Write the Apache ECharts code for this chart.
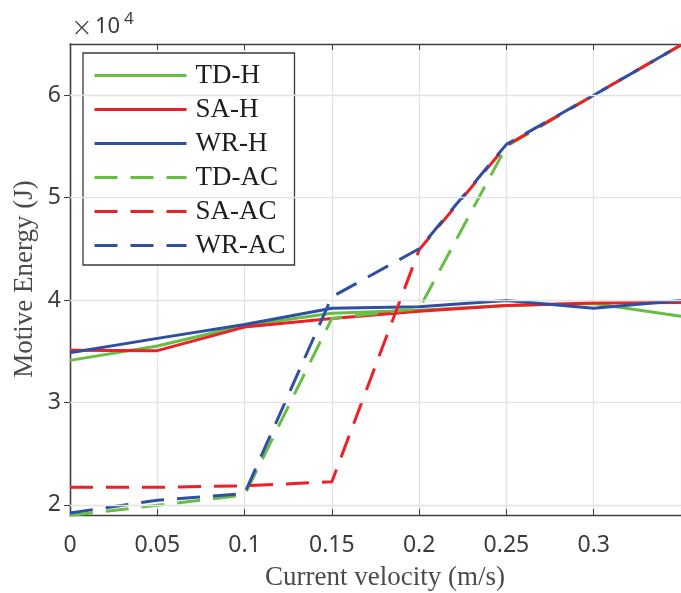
<!DOCTYPE html>
<html>
<head>
<meta charset="utf-8">
<script src="https://cdn.jsdelivr.net/npm/echarts@6/dist/echarts.min.js"></script>
<style>
  html, body { margin: 0; padding: 0; background: #fff; }
  #chart { width: 681px; height: 593px; }
</style>
</head>
<body>
<div id="chart"></div>
<script>
// 数据：横轴为流速，纵轴为能量 (J)
const velocity = [0, 0.05, 0.1, 0.15, 0.2, 0.25, 0.3, 0.35]
const tdH = [34100, 35500, 37500, 38700, 39000, 39450, 39650, 38400]
const saH = [35100, 35050, 37350, 38200, 38900, 39450, 39700, 39750]
const wrH = [34850, 36250, 37600, 39200, 39350, 39950, 39200, 39950]
const tdAC = [18950, 19950, 20950, 38200, 39150, 55000, 60000, 64900]
const saAC = [21700, 21700, 21850, 22250, 44900, 55100, 60000, 64900]
const wrAC = [19200, 20450, 21100, 40300, 45000, 55200, 60000, 64900]
const yTicks = [20000, 30000, 40000, 50000, 60000]

const GREEN = '#68bd45'
const RED = '#ee1f25'
const BLUE = '#2f4fa2'
const AXIS = '#404040'
const SERIF = '"Liberation Serif", "DejaVu Serif", serif'
const SANS = '"Noto Sans", sans-serif'
const DASH = [23, 13]

function pairs(ys) {
  return velocity.map((x, i) => [x, ys[i]])
}

function makeLine(name, ys, color, dashed) {
  return {
    name: name,
    type: 'line',
    data: pairs(ys),
    symbol: 'none',
    smooth: false,
    lineStyle: { color: color, width: 3, type: dashed ? DASH : 'solid' },
    itemStyle: { color: color },
    emphasis: { disabled: true }
  }
}

const chart = echarts.init(document.getElementById('chart'), null, { renderer: 'canvas' })

const option = {
  animation: false,
  backgroundColor: '#fff',
  grid: { left: 70, right: 0, top: 44, bottom: 78, containLabel: false },
  legend: {
    orient: 'vertical',
    left: 83,
    top: 53,
    padding: [9, 9, 6, 10],
    itemWidth: 92,
    itemHeight: 12,
    itemGap: 7,
    borderColor: '#3a3a3a',
    borderWidth: 1.3,
    backgroundColor: '#fff',
    itemStyle: { opacity: 0 },
    lineStyle: { width: 3 },
    textStyle: { fontFamily: SERIF, fontSize: 27, lineHeight: 27, color: '#1e1e1e', padding: [0, 0, 0, 4] },
    data: ['TD-H', 'SA-H', 'WR-H', 'TD-AC', 'SA-AC', 'WR-AC']
  },
  xAxis: [{
    type: 'value',
    position: 'bottom',
    min: 0,
    max: 0.35,
    interval: 0.05,
    axisLine: { lineStyle: { color: AXIS, width: 1.3 } },
    axisTick: { inside: true, length: 6, lineStyle: { color: AXIS } },
    axisLabel: {
      showMaxLabel: false,
      margin: 19,
      fontFamily: SANS,
      fontSize: 23,
      color: '#3c3c3c',
      formatter: (v) => String(+v.toFixed(2))
    },
    splitLine: { show: true, lineStyle: { color: '#e3e3e3', width: 1.3 } }
  }, {
    type: 'value',
    position: 'top',
    min: 0,
    max: 0.35,
    interval: 0.05,
    axisLine: { show: true, lineStyle: { color: AXIS, width: 1.3 } },
    axisTick: { show: true, inside: true, length: 6, lineStyle: { color: AXIS } },
    axisLabel: { show: false },
    splitLine: { show: false }
  }],
  yAxis: [{
    type: 'value',
    position: 'left',
    min: 19000,
    max: 65000,
    axisLine: { show: true, lineStyle: { color: AXIS, width: 1.3 } },
    axisTick: { show: true, inside: true, length: 6, customValues: yTicks, lineStyle: { color: AXIS } },
    axisLabel: {
      customValues: yTicks,
      margin: 9,
      fontFamily: SANS,
      fontSize: 23,
      color: '#3c3c3c',
      formatter: (v) => String(v / 10000)
    },
    splitLine: { show: false }
  }, {
    type: 'value',
    position: 'right',
    min: 19000,
    max: 65000,
    axisLine: { show: true, lineStyle: { color: AXIS, width: 1.3 } },
    axisTick: { show: true, inside: true, length: 6, customValues: yTicks, lineStyle: { color: AXIS } },
    axisLabel: { show: false, customValues: yTicks },
    splitLine: { show: false }
  }],
  graphic: [{
    // 科学计数法指数标注 ×10^4
    type: 'text',
    x: 82,
    y: 29,
    style: {
      text: '×',
      fontFamily: '"DejaVu Sans", sans-serif',
      fontSize: 26,
      fontWeight: 200,
      fill: '#3c3c3c',
      align: 'center',
      verticalAlign: 'middle'
    }
  }, {
    type: 'text',
    x: 95,
    y: 38,
    style: {
      text: '10',
      fontFamily: SANS,
      fontSize: 22,
      fill: '#3c3c3c',
      align: 'left',
      verticalAlign: 'bottom'
    }
  }, {
    type: 'text',
    x: 124,
    y: 28,
    style: {
      text: '4',
      fontFamily: SANS,
      fontSize: 17,
      fill: '#3c3c3c',
      align: 'left',
      verticalAlign: 'bottom'
    }
  }, {
    type: 'text',
    x: 385,
    y: 578,
    style: {
      text: 'Current velocity (m/s)',
      fontFamily: SERIF,
      fontSize: 27,
      fill: '#4a4a4a',
      align: 'center',
      verticalAlign: 'middle'
    }
  }, {
    type: 'text',
    x: 25,
    y: 279,
    rotation: Math.PI / 2,
    style: {
      text: 'Motive Energy (J)',
      fontFamily: SERIF,
      fontSize: 27,
      fill: '#4a4a4a',
      align: 'center',
      verticalAlign: 'middle'
    }
  }],
  series: [
    // 水平网格线，沿 y 轴刻度
    {
      name: 'grid-y',
      type: 'line',
      data: [],
      silent: true,
      markLine: {
        silent: true,
        symbol: 'none',
        label: { show: false },
        lineStyle: { color: '#e3e3e3', width: 1.3, type: 'solid' },
        data: yTicks.map((v) => ({ yAxis: v }))
      }
    },
    makeLine('TD-H', tdH, GREEN, false),
    makeLine('SA-H', saH, RED, false),
    makeLine('WR-H', wrH, BLUE, false),
    makeLine('TD-AC', tdAC, GREEN, true),
    makeLine('SA-AC', saAC, RED, true),
    makeLine('WR-AC', wrAC, BLUE, true)
  ]
}

chart.setOption(option)
</script>
</body>
</html>
